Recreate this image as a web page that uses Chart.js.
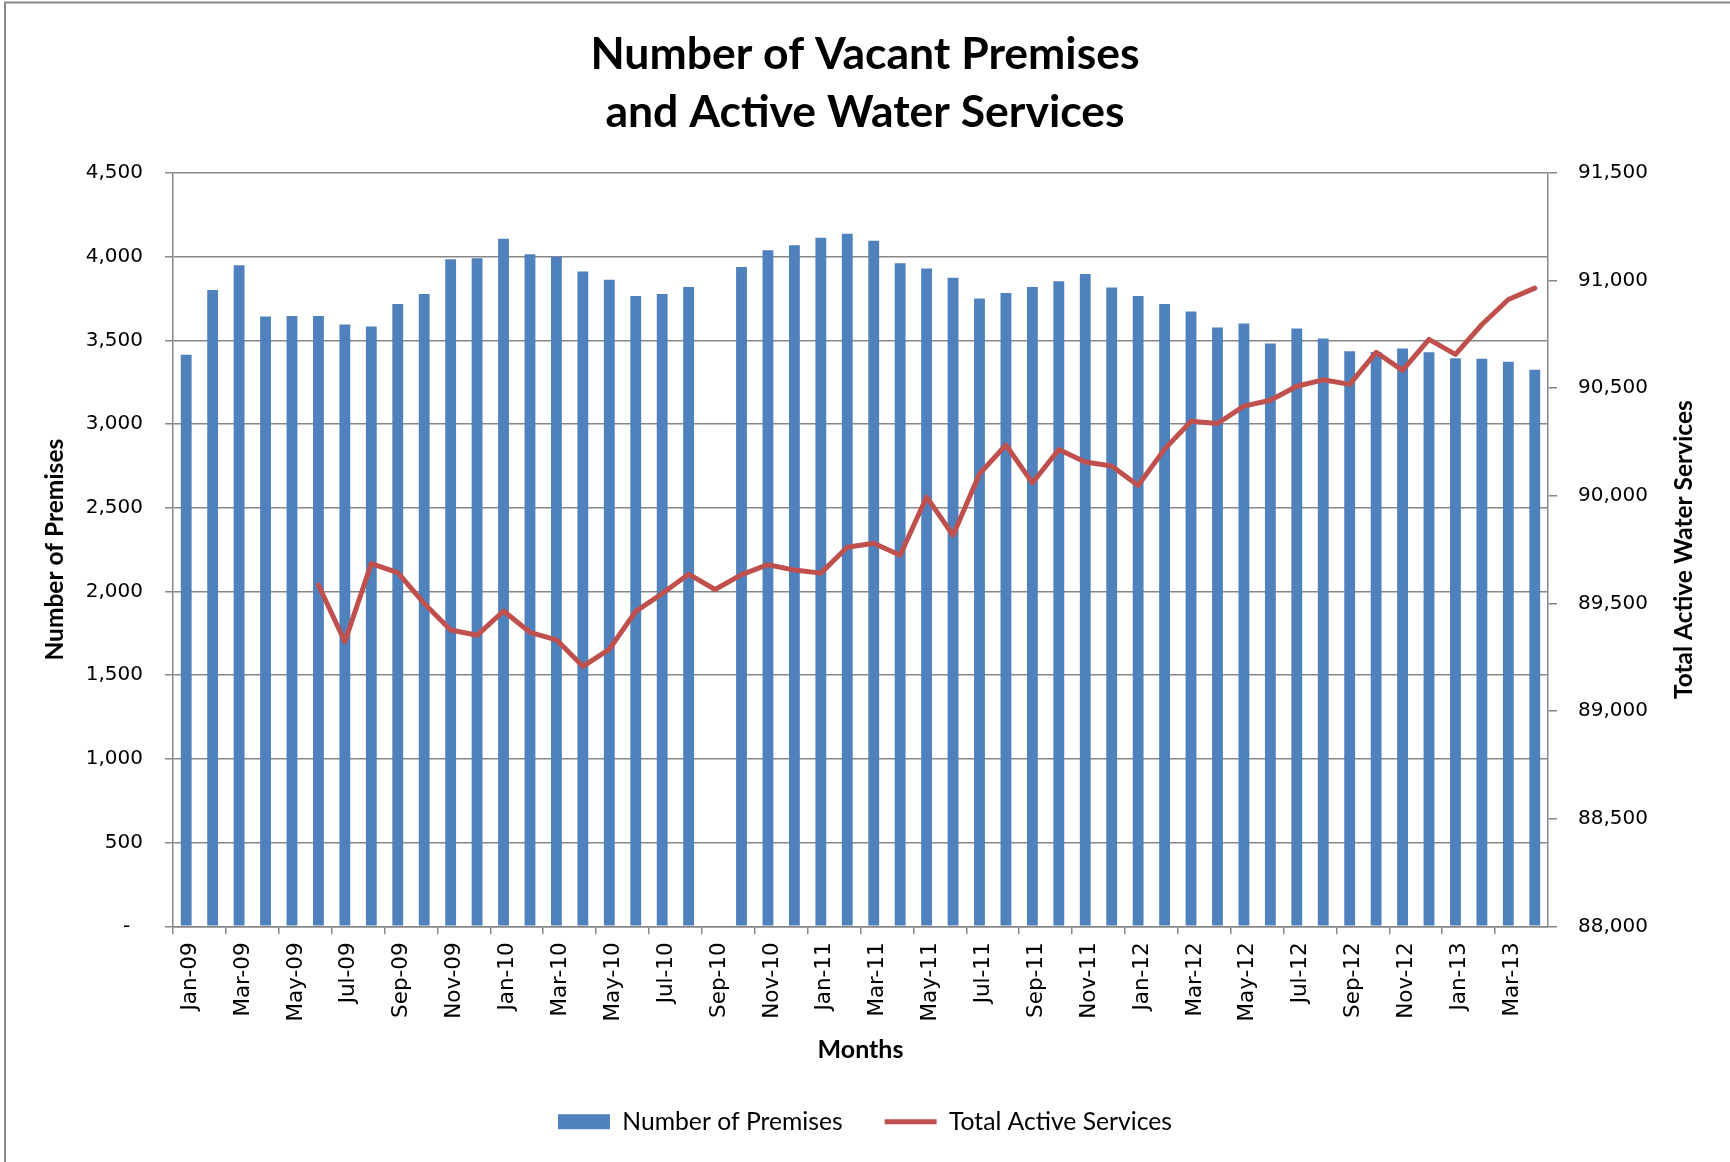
<!DOCTYPE html>
<html>
<head>
<meta charset="utf-8">
<title>Number of Vacant Premises and Active Water Services</title>
<script src="https://cdn.jsdelivr.net/npm/chart.js@4/dist/chart.umd.min.js"></script>
<style>
  html, body { margin: 0; padding: 0; background: #fff; }
  #wrap { width: 1730px; height: 1162px; }
</style>
</head>
<body>
<div id="wrap"><canvas id="myChart" width="1730" height="1162"></canvas></div>
<script>
// months Jan-09 .. Apr-13
const months = [
  'Jan-09', 'Feb-09', 'Mar-09', 'Apr-09', 'May-09', 'Jun-09', 'Jul-09', 'Aug-09', 'Sep-09', 'Oct-09', 'Nov-09', 'Dec-09',
  'Jan-10', 'Feb-10', 'Mar-10', 'Apr-10', 'May-10', 'Jun-10', 'Jul-10', 'Aug-10', 'Sep-10', 'Oct-10', 'Nov-10', 'Dec-10',
  'Jan-11', 'Feb-11', 'Mar-11', 'Apr-11', 'May-11', 'Jun-11', 'Jul-11', 'Aug-11', 'Sep-11', 'Oct-11', 'Nov-11', 'Dec-11',
  'Jan-12', 'Feb-12', 'Mar-12', 'Apr-12', 'May-12', 'Jun-12', 'Jul-12', 'Aug-12', 'Sep-12', 'Oct-12', 'Nov-12', 'Dec-12',
  'Jan-13', 'Feb-13', 'Mar-13', 'Apr-13'
];

const vacantPremises = [
  3414, 3801, 3949, 3643, 3646, 3646, 3595, 3583, 3717, 3777, 3985, 3991,
  4107, 4015, 4000, 3911, 3863, 3765, 3777, 3819, null, 3938, 4039, 4068,
  4113, 4137, 4095, 3961, 3929, 3875, 3750, 3783, 3819, 3854, 3896, 3816,
  3765, 3717, 3673, 3577, 3601, 3482, 3571, 3512, 3435, 3430, 3452, 3429,
  3393, 3390, 3372, 3324
];

const activeServices = [
  null, null, null, null, null, 89586, 89322, 89685, 89643, 89500, 89377, 89352,
  89465, 89366, 89331, 89208, 89287, 89463, 89546, 89636, 89565, 89634, 89680, 89655,
  89641, 89761, 89780, 89724, 89995, 89817, 90102, 90236, 90060, 90215, 90157, 90139,
  90048, 90217, 90347, 90336, 90417, 90444, 90509, 90539, 90518, 90667, 90583, 90727,
  90657, 90796, 90912, 90965
];

const premisesTicks = [0, 500, 1000, 1500, 2000, 2500, 3000, 3500, 4000, 4500];
const servicesTicks = [88000, 88500, 89000, 89500, 90000, 90500, 91000, 91500];

const gridGray = '#878787';
const titleFont = 'Lato';

Chart.defaults.font.family = 'DejaVu Sans';
Chart.defaults.color = '#000';

// white background + frame line at top/left
const framePlugin = {
  id: 'frame',
  beforeDraw(chart) {
    const c = chart.ctx;
    c.save();
    c.fillStyle = '#fff';
    c.fillRect(0, 0, chart.width, chart.height);
    c.strokeStyle = '#8a8a8a';
    c.lineWidth = 2;
    c.strokeRect(5, 2.5, chart.width + 20, chart.height + 20);
    c.restore();
  }
};

// right axis title reads bottom-to-top like the left one
const rightTitlePlugin = {
  id: 'rightTitle',
  afterDraw(chart) {
    const c = chart.ctx;
    const area = chart.chartArea;
    c.save();
    c.translate(1684, (area.top + area.bottom) / 2);
    c.rotate(-Math.PI / 2);
    c.font = 'bold 24.5px ' + titleFont;
    c.fillStyle = '#000';
    c.textAlign = 'center';
    c.textBaseline = 'middle';
    c.fillText('Total Active Water Services', 0, 0);
    c.restore();
  }
};

const ctx = document.getElementById('myChart').getContext('2d');

const myChart = new Chart(ctx, {
  type: 'bar',
  data: {
    labels: months,
    datasets: [{
      type: 'bar',
      label: 'Number of Premises',
      data: vacantPremises,
      backgroundColor: '#4F81BD',
      borderWidth: 0,
      barPercentage: 0.41,
      categoryPercentage: 1.0,
      pointStyle: 'rect',
      yAxisID: 'y',
      order: 1
    }, {
      type: 'line',
      label: 'Total Active Services',
      data: activeServices,
      borderColor: '#C0504D',
      backgroundColor: '#C0504D',
      borderWidth: 5,
      borderJoinStyle: 'round',
      borderCapStyle: 'round',
      pointRadius: 0,
      pointHoverRadius: 0,
      pointStyle: 'line',
      tension: 0,
      spanGaps: false,
      yAxisID: 'y1',
      order: 0
    }]
  },
  options: {
    responsive: false,
    animation: false,
    layout: { padding: { left: 0, right: 0, top: 0, bottom: 18 } },
    plugins: {
      title: {
        display: true,
        text: ['Number of Vacant Premises', 'and Active Water Services'],
        color: '#000',
        font: { family: titleFont, weight: 'bold', size: 44.5, lineHeight: 58 / 44.5 },
        padding: { top: 26, bottom: 31 }
      },
      legend: {
        position: 'bottom',
        labels: {
          usePointStyle: true,
          pointStyleWidth: 52,
          boxHeight: 15,
          padding: 42,
          color: '#000',
          font: { family: titleFont, size: 24.7 },
          sort: (a, b) => a.datasetIndex - b.datasetIndex
        }
      },
      tooltip: { enabled: false }
    },
    scales: {
      x: {
        offset: true,
        grid: {
          offset: true,
          drawOnChartArea: false,
          tickLength: 8,
          lineWidth: 1.5,
          color: gridGray,
          tickColor: (c) => (c.index % 2 === 0 ? gridGray : 'rgba(0,0,0,0)')
        },
        border: { display: true, color: gridGray, width: 1.5 },
        ticks: {
          autoSkip: false,
          minRotation: 90,
          maxRotation: 90,
          padding: 8,
          labelOffset: 4,
          font: { size: 21.5 },
          callback: function (value, index) {
            return index % 2 === 0 ? months[index] : '';
          }
        },
        title: {
          display: true,
          text: 'Months',
          font: { family: titleFont, weight: 'bold', size: 25 },
          padding: { top: 0, bottom: 2 }
        },
        afterFit: (scale) => { scale.height = 141; }
      },
      y: {
        position: 'left',
        min: 0,
        max: 4500,
        afterBuildTicks: (scale) => { scale.ticks = premisesTicks.map(v => ({ value: v })); },
        grid: { color: gridGray, lineWidth: 1.5, tickLength: 8 },
        border: { display: true, color: gridGray, width: 1.5 },
        ticks: {
          padding: 22,
          font: { size: 20 },
          callback: (v) => (v === 0 ? '-  ' : v.toLocaleString('en-US'))
        },
        title: {
          display: true,
          text: 'Number of Premises',
          font: { family: titleFont, weight: 'bold', size: 24.5 },
          padding: { top: 40, bottom: 0 }
        },
        afterFit: (scale) => { scale.width = 173; }
      },
      y1: {
        position: 'right',
        min: 88000,
        max: 91500,
        afterBuildTicks: (scale) => { scale.ticks = servicesTicks.map(v => ({ value: v })); },
        grid: { drawOnChartArea: false, color: gridGray, lineWidth: 1.5, tickLength: 9 },
        border: { display: true, color: gridGray, width: 1.5 },
        ticks: {
          padding: 21,
          font: { size: 20 },
          callback: (v) => v.toLocaleString('en-US')
        },
        afterFit: (scale) => { scale.width = 182; }
      }
    }
  },
  plugins: [framePlugin, rightTitlePlugin]
});
</script>
</body>
</html>
